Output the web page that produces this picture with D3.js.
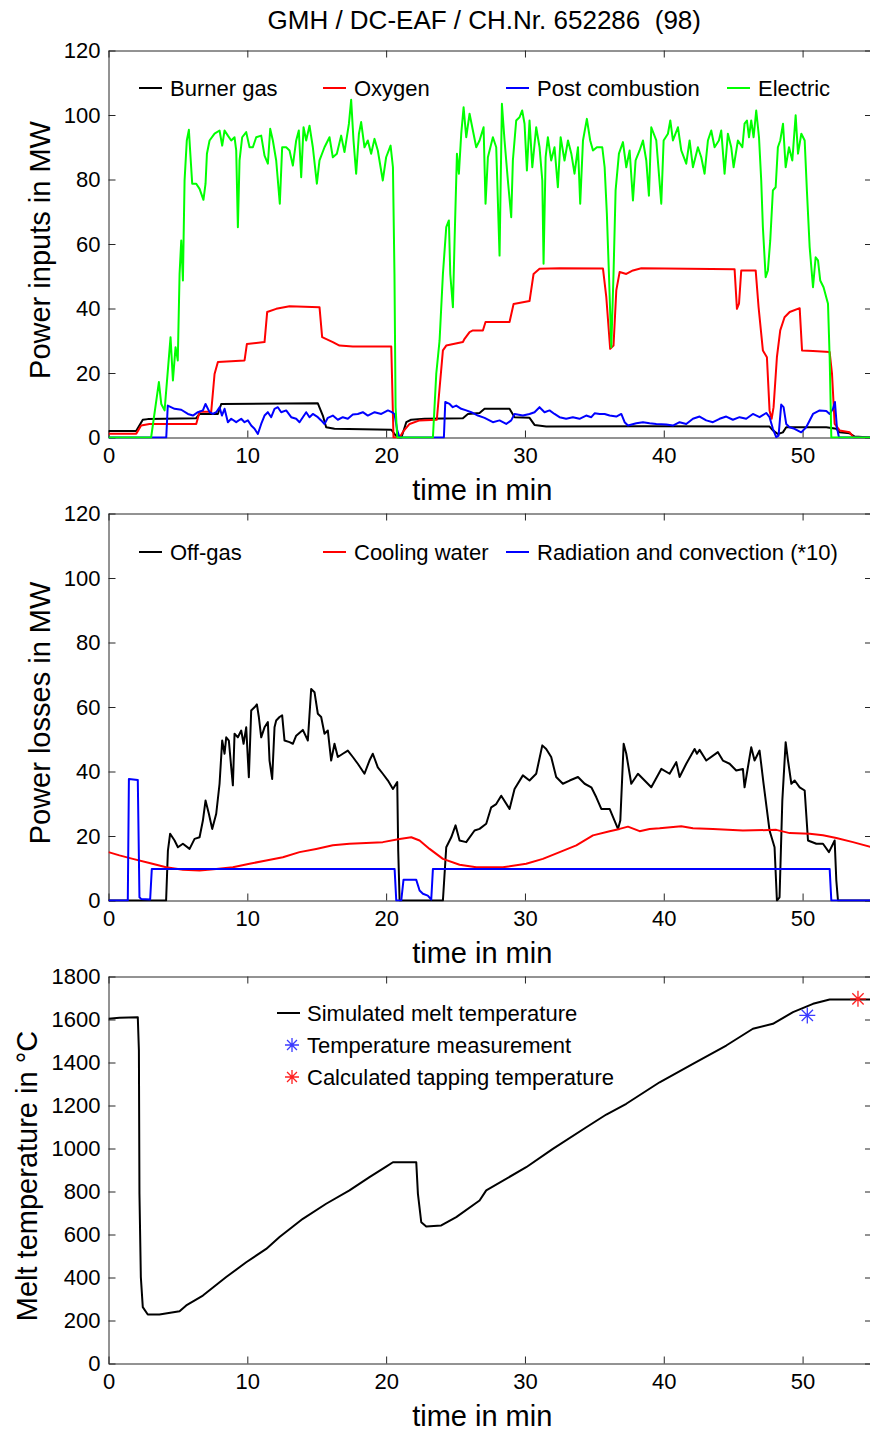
<!DOCTYPE html>
<html>
<head>
<meta charset="utf-8">
<script src="https://cdn.jsdelivr.net/npm/d3@7"></script>
<style>
  body { margin: 0; background: #fff; }
  svg { display: block; font-family: "Liberation Sans", Arial, sans-serif; }
  .title { white-space: pre; }
</style>
</head>
<body>
<svg id="chart" width="870" height="1430"></svg>
<script>
// ---- data: [time in min, value] ----
const burnerGas = [[0,2.0],[1.99,2.0],[2.47,5.5],[2.83,5.7],[6.32,6.0],[6.56,7.3],[7.88,7.3],[8.12,10.4],[15.08,10.6],[15.44,6.8],[15.68,3.2],[16.28,2.7],[20.37,2.4],[20.6,1.1],[20.85,0],[21.1,0],[21.45,4.75],[21.8,5.5],[22.77,5.8],[25.53,6.0],[25.89,7.3],[26.73,7.6],[27.09,8.9],[28.89,8.9],[29.25,6.3],[30.33,6.1],[30.69,3.9],[31.53,3.4],[38.74,3.5],[47.62,3.4],[47.86,2.2],[48.22,1.1],[48.58,1.6],[48.82,3.2],[51.71,3.2],[52.43,2.7],[52.67,1.6],[53.39,1.3],[53.75,0.3],[55,0]];

const oxygen = [[0,1.2],[2.0,1.2],[2.35,3.7],[2.95,4.2],[6.32,4.2],[6.56,8.0],[7.4,8.0],[7.64,19.7],[7.88,23.4],[9.8,23.9],[9.97,29.0],[11.24,29.6],[11.43,38.9],[12.08,39.9],[13.04,40.7],[15.2,40.4],[15.39,31.1],[16.16,29.6],[16.64,28.5],[17.6,28.2],[20.37,28.2],[20.53,0],[20.97,0],[21.25,2],[21.69,4.2],[22.41,5.3],[23.65,5.5],[24.09,27.0],[24.33,28.5],[25.53,29.6],[25.65,30.6],[26.01,32.7],[26.25,33.2],[26.97,33.2],[27.16,35.8],[28.89,35.8],[29.18,41.4],[30.33,42.3],[30.62,50.7],[31.05,52.3],[32.5,52.5],[35.62,52.4],[35.86,43.5],[36.14,27.5],[36.38,28.5],[36.58,45.6],[36.82,51.3],[37.3,50.7],[37.78,51.8],[38.38,52.5],[45.1,52.2],[45.27,39.9],[45.42,41.5],[45.58,51.8],[46.62,51.8],[46.83,40.4],[47.14,27.0],[47.43,24.9],[47.62,8.4],[47.77,5.8],[47.91,9.4],[48.15,24.9],[48.39,33.2],[48.7,37.3],[49.07,38.9],[49.79,40.1],[49.96,27.0],[50.75,26.8],[51.95,26.5],[52.12,19.7],[52.31,4.2],[52.67,2.2],[53.39,1.6],[53.68,0],[55,0]];

const postCombustion = [[0,0],[4.16,0],[4.27,9.9],[4.76,8.9],[5.24,8.6],[5.72,7.3],[6.08,6.8],[6.44,7.85],[6.8,8.4],[6.99,10.4],[7.28,7.85],[7.52,7.3],[7.76,7.85],[8.0,9.4],[8.17,6.8],[8.36,8.9],[8.6,4.75],[8.84,5.8],[9.2,4.75],[9.56,5.8],[9.8,4.75],[10.04,5.3],[10.28,3.7],[10.52,2.7],[10.76,1.1],[11.0,4.2],[11.24,6.8],[11.48,7.85],[11.72,6.3],[11.96,8.9],[12.2,9.4],[12.44,7.85],[12.8,8.4],[13.16,6.3],[13.52,5.8],[13.76,4.75],[14.0,6.3],[14.24,7.85],[14.48,6.3],[14.72,7.3],[15.08,6.3],[15.32,5.3],[15.56,4.2],[15.8,6.1],[16.16,6.8],[16.52,5.5],[16.88,6.3],[17.24,5.8],[17.6,7.1],[17.96,7.3],[18.32,7.85],[18.68,6.8],[19.17,7.85],[19.65,7.3],[20.13,8.4],[20.41,7.85],[20.6,7.3],[20.8,2.2],[20.97,0],[24.16,0],[24.26,11.0],[24.57,10.4],[24.8,9.4],[25.05,9.9],[25.41,8.9],[25.77,8.4],[26.13,7.85],[26.61,6.8],[27.09,6.1],[27.69,4.75],[28.17,5.3],[28.65,4.2],[29.01,5.3],[29.25,7.3],[29.85,6.8],[30.33,7.3],[30.69,7.85],[31.05,9.4],[31.41,7.85],[31.77,8.4],[32.13,7.3],[32.49,6.3],[32.97,5.8],[33.45,6.3],[33.93,5.8],[34.41,6.8],[34.78,6.3],[35.02,7.5],[35.38,7.3],[35.74,7.3],[36.1,6.8],[36.58,6.5],[36.94,7.3],[37.18,4.75],[37.42,3.7],[38.02,4.4],[38.5,4.75],[38.98,4.4],[39.46,4.2],[40.18,4.0],[40.66,3.7],[41.14,4.75],[41.62,4.2],[42.1,5.8],[42.58,6.5],[43.06,5.3],[43.54,4.75],[44.02,5.8],[44.5,6.5],[44.98,5.5],[45.46,6.3],[45.94,5.8],[46.42,7.3],[46.9,6.3],[47.38,7.6],[47.62,6.3],[47.86,2.7],[48.1,0.1],[48.27,0.6],[48.46,10.2],[48.63,9.4],[48.82,4.2],[49.06,3.2],[49.42,2.7],[49.9,1.6],[50.26,3.2],[50.75,7.3],[51.23,8.4],[51.71,8.2],[51.95,7.3],[52.19,8.9],[52.33,11.0],[52.47,3.2],[52.62,0],[55,0]];

const electric = [[0,0],[3.07,0],[3.63,17.2],[3.8,10.4],[4.04,8.4],[4.47,31.1],[4.64,17.7],[4.83,28.0],[4.99,23.9],[5.12,50.7],[5.24,61.1],[5.36,48.7],[5.48,79.7],[5.64,92.1],[5.79,95.4],[5.88,89.0],[6.03,78.7],[6.32,78.7],[6.56,77.1],[6.84,73.7],[6.99,78.7],[7.09,88.0],[7.28,92.1],[7.64,94.2],[8.0,95.2],[8.19,90.5],[8.36,95.2],[8.6,93.6],[8.84,92.1],[9.08,93.1],[9.2,89.0],[9.32,65.2],[9.44,85.9],[9.63,93.1],[9.92,94.7],[10.16,90.0],[10.4,90.0],[10.64,93.1],[11.0,93.6],[11.24,87.4],[11.48,84.9],[11.65,95.7],[11.84,92.1],[12.08,85.9],[12.34,72.5],[12.51,90.0],[12.8,90.0],[13.04,89.0],[13.28,84.3],[13.52,92.1],[13.71,95.2],[13.88,80.7],[14.05,96.2],[14.24,92.1],[14.48,96.7],[14.72,90.0],[15.01,78.7],[15.2,85.9],[15.56,90.0],[15.92,93.1],[16.16,86.9],[16.45,88.0],[16.76,93.6],[17.0,88.5],[17.32,97.3],[17.48,104.7],[17.65,92.1],[17.84,81.8],[18.04,94.2],[18.2,97.8],[18.44,90.0],[18.68,92.1],[18.92,88.0],[19.16,92.6],[19.4,89.0],[19.76,79.7],[20.0,86.9],[20.32,90.5],[20.49,83.8],[20.6,50.7],[20.68,9.4],[20.8,0],[23.37,0],[23.61,19.7],[23.85,30.1],[24.09,50.7],[24.33,65.2],[24.52,67.3],[24.62,50.7],[24.81,40.4],[24.93,61.1],[25.1,88.0],[25.24,81.8],[25.41,94.2],[25.58,102.4],[25.77,93.1],[26.01,100.4],[26.25,95.2],[26.49,90.0],[26.73,92.1],[27.02,96.2],[27.16,72.5],[27.33,86.9],[27.69,93.1],[27.93,90.0],[28.17,56.4],[28.34,103.5],[28.53,92.1],[28.77,79.7],[29.01,68.3],[29.13,85.9],[29.37,98.3],[29.61,99.3],[29.8,101.4],[29.97,97.3],[30.14,82.8],[30.33,98.3],[30.53,83.8],[30.81,96.2],[31.05,90.0],[31.25,79.7],[31.34,53.9],[31.49,86.9],[31.65,93.1],[31.89,85.9],[32.13,90.0],[32.37,77.6],[32.57,93.1],[32.85,85.9],[33.1,92.1],[33.34,88.0],[33.57,81.8],[33.82,90.0],[33.98,72.5],[34.18,92.1],[34.46,98.8],[34.7,92.1],[34.9,89.0],[35.18,90.0],[35.57,90.0],[35.74,83.8],[35.9,69.4],[36.05,50.7],[36.22,28.0],[36.38,50.7],[36.53,76.6],[36.77,88.0],[37.06,91.6],[37.3,83.8],[37.54,89.0],[37.78,73.5],[37.97,85.9],[38.26,89.0],[38.5,92.1],[38.74,85.9],[38.93,75.0],[39.1,96.2],[39.46,92.1],[39.82,72.5],[39.99,92.1],[40.3,94.2],[40.47,98.3],[40.66,92.1],[41.02,96.2],[41.26,89.0],[41.62,84.9],[41.86,92.1],[42.1,83.8],[42.46,90.0],[42.7,86.9],[42.94,81.8],[43.18,92.1],[43.42,95.2],[43.66,90.0],[43.97,92.1],[44.14,95.2],[44.38,81.8],[44.62,94.2],[44.86,90.0],[45.03,83.8],[45.34,92.1],[45.66,90.0],[45.82,97.3],[45.99,98.3],[46.14,93.1],[46.3,98.3],[46.47,93.1],[46.66,101.4],[46.86,93.1],[47.02,79.7],[47.14,65.2],[47.34,49.7],[47.5,51.8],[47.67,61.1],[47.86,76.6],[48.06,77.6],[48.22,90.0],[48.39,92.1],[48.59,97.3],[48.78,83.8],[49.02,90.0],[49.26,85.9],[49.5,99.9],[49.67,88.0],[49.91,94.2],[50.15,92.1],[50.31,76.6],[50.51,59.0],[50.75,46.6],[50.94,55.9],[51.11,54.9],[51.27,48.7],[51.51,46.6],[51.83,41.5],[51.95,24.9],[52.07,0],[55,0]];

const offGas = [[0,0],[4.15,0],[4.28,15.5],[4.44,20.7],[4.76,18.6],[5.0,16.5],[5.36,17.6],[5.84,16.0],[6.2,19.1],[6.56,19.6],[6.8,24.8],[6.99,31.0],[7.23,26.9],[7.47,22.2],[7.76,26.9],[8.0,36.2],[8.19,49.6],[8.36,45.5],[8.48,50.6],[8.67,49.6],[8.84,41.3],[8.96,35.7],[9.08,51.7],[9.32,50.6],[9.56,52.7],[9.73,48.6],[9.92,53.7],[10.11,38.2],[10.28,58.9],[10.52,59.9],[10.69,60.8],[10.83,56.9],[11.0,50.6],[11.24,53.7],[11.48,55.3],[11.6,43.4],[11.79,37.7],[11.96,53.7],[12.08,55.8],[12.32,56.9],[12.51,57.4],[12.68,49.6],[13.04,49.1],[13.28,48.6],[13.52,51.1],[14.0,52.9],[14.36,49.6],[14.6,65.6],[14.84,64.6],[15.08,57.9],[15.32,56.9],[15.56,51.7],[15.8,52.7],[16.04,43.4],[16.28,48.6],[16.52,44.5],[16.88,45.5],[17.24,46.5],[17.6,44.5],[17.96,42.4],[18.44,39.3],[18.8,43.4],[19.04,45.5],[19.4,41.3],[19.76,39.3],[20.13,37.2],[20.49,34.6],[20.8,36.7],[20.87,15.5],[20.97,0],[24.09,0],[24.33,16.5],[24.69,19.6],[25.0,23.3],[25.29,18.6],[25.77,18.1],[26.37,21.7],[26.73,22.2],[27.21,23.8],[27.57,28.9],[27.93,29.9],[28.29,32.5],[28.89,28.4],[29.25,34.6],[29.85,38.8],[30.33,37.2],[30.81,39.3],[31.25,48.1],[31.53,47.0],[31.89,44.5],[32.25,38.3],[32.73,36.2],[33.22,37.2],[33.82,38.3],[34.3,36.2],[34.78,35.1],[35.14,32.0],[35.5,28.4],[36.1,28.4],[36.7,22.2],[36.87,24.8],[37.11,48.6],[37.3,45.5],[37.66,36.2],[38.14,39.3],[38.62,37.2],[39.1,35.1],[39.82,40.8],[40.42,39.3],[40.9,42.9],[41.14,38.3],[41.62,42.4],[42.22,47.0],[42.39,45.5],[42.58,46.7],[43.06,43.4],[43.9,46.0],[44.26,43.4],[44.74,42.4],[45.22,40.3],[45.7,40.8],[45.82,35.1],[46.3,47.5],[46.54,43.4],[46.9,46.5],[47.19,36.2],[47.62,21.7],[47.98,16.5],[48.15,0],[48.34,1.0],[48.54,31.0],[48.78,49.1],[48.95,43.4],[49.19,36.2],[49.43,37.2],[49.79,35.1],[50.15,34.1],[50.39,18.6],[50.99,17.6],[51.47,17.6],[51.9,15.0],[52.31,18.6],[52.43,6.2],[52.55,0],[55,0]];

const coolingWater = [[0,15.0],[0.79,14.0],[1.75,12.9],[2.95,11.6],[4.15,10.3],[5.36,9.5],[6.56,9.3],[7.76,9.8],[8.96,10.3],[10.16,11.4],[11.36,12.4],[12.56,13.4],[13.76,15.0],[14.96,16.0],[16.16,17.1],[17.36,17.6],[18.56,17.8],[19.76,18.1],[20.97,19.1],[21.81,19.6],[22.41,18.6],[23.13,16.0],[24.09,12.9],[25.29,11.1],[26.49,10.3],[28.41,10.3],[30.09,11.4],[31.29,12.9],[32.5,15.0],[33.7,17.1],[34.9,20.2],[36.1,21.5],[36.82,22.2],[37.42,22.9],[38.26,21.5],[38.98,22.2],[39.7,22.4],[41.26,23.0],[42.1,22.4],[43.54,22.2],[45.7,21.7],[48.1,21.9],[49.07,20.9],[50.51,20.7],[51.47,20.2],[52.43,19.4],[53.63,18.1],[55,16.5]];

const radiation = [[0,0],[1.39,0],[1.47,37.7],[2.11,37.4],[2.23,1.0],[2.35,0.5],[3.0,0.3],[3.12,9.8],[20.61,9.8],[20.73,0],[21.09,0],[21.25,6.4],[22.17,6.4],[22.41,3.1],[22.65,2.1],[23.0,1.5],[23.25,0.3],[23.37,9.8],[51.95,9.8],[52.07,0],[55,0]];

const meltTemp = [[0,1603],[0.79,1608],[2.11,1611],[2.19,1456],[2.23,789],[2.33,402],[2.47,262],[2.83,228],[3.67,228],[5.12,243],[5.6,270],[6.8,316],[8.48,402],[9.92,471],[11.36,533],[12.32,588],[14.0,673],[15.68,743],[17.36,805],[18.8,867],[20.0,916],[20.49,936],[22.17,936],[22.29,789],[22.53,657],[22.89,637],[23.97,642],[25.05,681],[26.73,758],[27.21,805],[30.09,913],[32.01,998],[34.42,1099],[35.86,1158],[37.3,1208],[39.7,1308],[42.1,1394],[44.5,1479],[46.42,1557],[47.86,1580],[49.31,1634],[50.75,1673],[51.95,1693],[55,1693]];

const tempMeasured = [[50.34, 1619]];
const tempTapping = [[53.99, 1696]];

const xTicks = [0, 10, 20, 30, 40, 50];
const powerTicks = [0, 20, 40, 60, 80, 100, 120];
const tempTicks = [0, 200, 400, 600, 800, 1000, 1200, 1400, 1600, 1800];

// ---- layout ----
const svg = d3.select('#chart');
const left = 108.5, right = 872;
const fontSize = 22;
const labelSize = 29;
const x = d3.scaleLinear().domain([0, 55]).range([left, right]);

const panels = [
  {top: 50.5, bottom: 437.5, domain: [0, 120], ticks: powerTicks, label: 'Power inputs in MW', labelX: 40},
  {top: 513.5, bottom: 900.5, domain: [0, 120], ticks: powerTicks, label: 'Power losses in MW', labelX: 40},
  {top: 976.5, bottom: 1363.5, domain: [0, 1800], ticks: tempTicks, label: 'Melt temperature in \u00B0C', labelX: 27}
];

svg.append('text').attr('class', 'title')
  .attr('x', (left + right) / 2 - 6).attr('y', 29)
  .attr('text-anchor', 'middle').attr('font-size', 26)
  .text('GMH / DC-EAF / CH.Nr. 652286  (98)');

const tickLen = 7;

function drawAxes(p, i) {
  const y = d3.scaleLinear().domain(p.domain).range([p.bottom, p.top]);
  p.y = y;
  const g = svg.append('g').attr('class', 'panel' + i);
  p.g = g;

  const xb = g.append('g').attr('transform', `translate(0,${p.bottom})`)
    .call(d3.axisBottom(x).tickValues(xTicks).tickSizeInner(-tickLen).tickSizeOuter(0).tickPadding(10).tickFormat(d3.format('d')));
  const xt = g.append('g').attr('transform', `translate(0,${p.top})`)
    .call(d3.axisTop(x).tickValues(xTicks).tickSizeInner(-tickLen).tickSizeOuter(0).tickFormat(''));
  const yl = g.append('g').attr('transform', `translate(${left},0)`)
    .call(d3.axisLeft(y).tickValues(p.ticks).tickSizeInner(-tickLen).tickSizeOuter(0).tickPadding(8).tickFormat(d3.format('d')));
  const yr = g.append('g').attr('transform', `translate(${right},0)`)
    .call(d3.axisRight(y).tickValues(p.ticks).tickSizeInner(-tickLen).tickSizeOuter(0).tickFormat(''));

  [xb, xt, yl, yr].forEach(a => {
    a.selectAll('path.domain').attr('stroke', '#262626').attr('stroke-width', 1);
    a.selectAll('.tick line').attr('stroke', '#262626');
    a.selectAll('text').attr('font-size', fontSize).attr('fill', '#000')
      .attr('font-family', '"Liberation Sans", Arial, sans-serif');
  });

  g.append('text')
    .attr('x', (left + right) / 2 - 8).attr('y', p.bottom + 62)
    .attr('text-anchor', 'middle').attr('font-size', labelSize)
    .text('time in min');

  g.append('text')
    .attr('transform', `translate(${p.labelX},${(p.top + p.bottom) / 2 + 6}) rotate(-90)`)
    .attr('text-anchor', 'middle').attr('dy', '0.35em').attr('font-size', labelSize)
    .text(p.label);

  g.append('clipPath').attr('id', 'clip' + i)
    .append('rect').attr('x', left).attr('y', p.top - 1)
    .attr('width', right - left).attr('height', p.bottom - p.top + 2);
}

panels.forEach(drawAxes);

function drawLine(p, i, data, color) {
  const line = d3.line().x(d => x(d[0])).y(d => p.y(d[1]));
  p.g.append('path').datum(data)
    .attr('d', line)
    .attr('fill', 'none')
    .attr('stroke', color)
    .attr('stroke-width', 2)
    .attr('stroke-linejoin', 'round')
    .attr('clip-path', `url(#clip${i})`);
}

// panel 1
drawLine(panels[0], 0, burnerGas, '#000000');
drawLine(panels[0], 0, oxygen, '#ff0000');
drawLine(panels[0], 0, postCombustion, '#0000ff');
drawLine(panels[0], 0, electric, '#00ff00');
// panel 2
drawLine(panels[1], 1, offGas, '#000000');
drawLine(panels[1], 1, coolingWater, '#ff0000');
drawLine(panels[1], 1, radiation, '#0000ff');
// panel 3
drawLine(panels[2], 2, meltTemp, '#000000');

function star(g, cx, cy, r, color) {
  const d = r * Math.SQRT1_2;
  const path = `M${cx - r},${cy}H${cx + r}M${cx},${cy - r}V${cy + r}` +
    `M${cx - d},${cy - d}L${cx + d},${cy + d}M${cx - d},${cy + d}L${cx + d},${cy - d}`;
  g.append('path').attr('d', path).attr('stroke', color).attr('stroke-width', 1.3).attr('fill', 'none');
}

tempMeasured.forEach(d => star(panels[2].g, x(d[0]), panels[2].y(d[1]), 8, '#3a3aff'));
tempTapping.forEach(d => star(panels[2].g, x(d[0]), panels[2].y(d[1]), 8, '#ff2020'));

// ---- legends ----
function legendRow(g, items, yPos) {
  items.forEach(it => {
    g.append('line').attr('x1', it.x).attr('x2', it.x + 23)
      .attr('y1', yPos).attr('y2', yPos)
      .attr('stroke', it.color).attr('stroke-width', 2);
    g.append('text').attr('x', it.x + 31).attr('y', yPos)
      .attr('dy', '0.35em').attr('font-size', fontSize).text(it.name);
  });
}

legendRow(panels[0].g, [
  {name: 'Burner gas', color: '#000000', x: 139},
  {name: 'Oxygen', color: '#ff0000', x: 323},
  {name: 'Post combustion', color: '#0000ff', x: 506},
  {name: 'Electric', color: '#00ff00', x: 727}
], 88);

legendRow(panels[1].g, [
  {name: 'Off-gas', color: '#000000', x: 139},
  {name: 'Cooling water', color: '#ff0000', x: 323},
  {name: 'Radiation and convection (*10)', color: '#0000ff', x: 506}
], 552);

const lg = panels[2].g;
lg.append('line').attr('x1', 277).attr('x2', 300).attr('y1', 1013).attr('y2', 1013)
  .attr('stroke', '#000').attr('stroke-width', 2);
lg.append('text').attr('x', 307).attr('y', 1013).attr('dy', '0.35em').attr('font-size', fontSize)
  .text('Simulated melt temperature');
star(lg, 292, 1045, 7, '#3a3aff');
lg.append('text').attr('x', 307).attr('y', 1045).attr('dy', '0.35em').attr('font-size', fontSize)
  .text('Temperature measurement');
star(lg, 292, 1077, 7, '#ff2020');
lg.append('text').attr('x', 307).attr('y', 1077).attr('dy', '0.35em').attr('font-size', fontSize)
  .text('Calculated tapping temperature');
</script>
</body>
</html>
